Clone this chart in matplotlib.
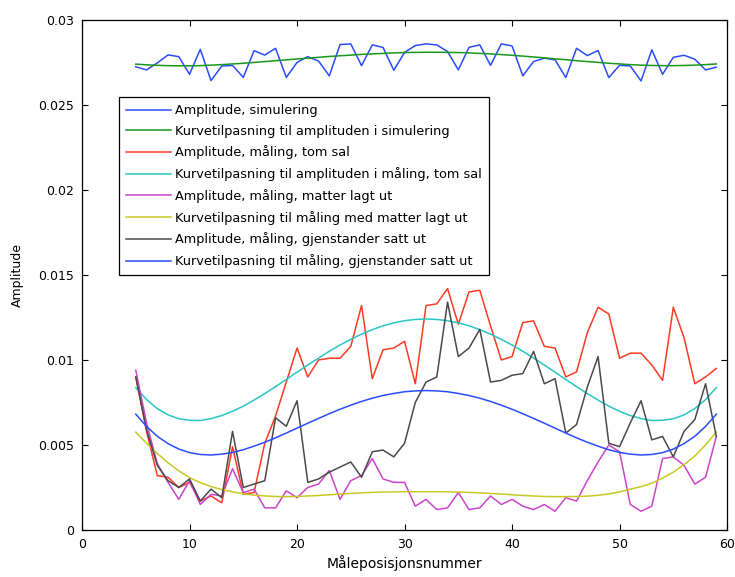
import matplotlib
matplotlib.use("Agg")
import matplotlib.pyplot as plt
import numpy as np

# measurement positions 5..59
pos = np.arange(5, 60)

amp_sim = [0.02724, 0.02706, 0.02747, 0.02794, 0.02784, 0.02680, 0.02827, 0.02643, 0.02729, 0.02732,
           0.02662, 0.02819, 0.02793, 0.02833, 0.02662, 0.02750, 0.02784, 0.02758, 0.02671, 0.02855,
           0.02859, 0.02731, 0.02853, 0.02838, 0.02704, 0.02809, 0.02849, 0.02859, 0.02853, 0.02814,
           0.02706, 0.02839, 0.02853, 0.02733, 0.02859, 0.02847, 0.02671, 0.02755, 0.02775, 0.02765,
           0.02661, 0.02833, 0.02790, 0.02820, 0.02661, 0.02733, 0.02729, 0.02641, 0.02824, 0.02680,
           0.02780, 0.02792, 0.02769, 0.02706, 0.02722]
fit_sim = [0.02740, 0.02736, 0.02733, 0.02731, 0.02730, 0.02730, 0.02731, 0.02734, 0.02737, 0.02741,
           0.02745, 0.02750, 0.02755, 0.02760, 0.02765, 0.02770, 0.02775, 0.02780, 0.02785, 0.02789,
           0.02793, 0.02797, 0.02800, 0.02803, 0.02806, 0.02808, 0.02809, 0.02810, 0.02810, 0.02809,
           0.02808, 0.02806, 0.02803, 0.02800, 0.02796, 0.02792, 0.02787, 0.02782, 0.02777, 0.02771,
           0.02766, 0.02760, 0.02755, 0.02750, 0.02745, 0.02741, 0.02737, 0.02734, 0.02732, 0.02731,
           0.02731, 0.02732, 0.02734, 0.02737, 0.02741]
amp_tom = [0.0090, 0.0058, 0.0032, 0.0031, 0.0025, 0.0028, 0.0017, 0.0020, 0.0016, 0.0049,
           0.0021, 0.0022, 0.0051, 0.0067, 0.0087, 0.0107, 0.0090, 0.0100, 0.0101, 0.0101,
           0.0108, 0.0132, 0.0089, 0.0106, 0.0107, 0.0111, 0.0086, 0.0132, 0.0133, 0.0142,
           0.0121, 0.0140, 0.0141, 0.0120, 0.0100, 0.0102, 0.0122, 0.0123, 0.0108, 0.0107,
           0.0090, 0.0093, 0.0116, 0.0131, 0.0127, 0.0101, 0.0104, 0.0104, 0.0097, 0.0088,
           0.0131, 0.0113, 0.0086, 0.0090, 0.0095]
fit_tom = [0.00837, 0.00767, 0.00714, 0.00677, 0.00654, 0.00645, 0.00644, 0.00655, 0.00673, 0.00698,
           0.00728, 0.00764, 0.00802, 0.00843, 0.00885, 0.00928, 0.00970, 0.01011, 0.01051, 0.01088,
           0.01121, 0.01152, 0.01178, 0.01201, 0.01218, 0.01231, 0.01238, 0.01241, 0.01238, 0.01231,
           0.01218, 0.01201, 0.01178, 0.01152, 0.01121, 0.01088, 0.01051, 0.01011, 0.00970, 0.00928,
           0.00885, 0.00843, 0.00802, 0.00764, 0.00728, 0.00698, 0.00673, 0.00655, 0.00644, 0.00645,
           0.00654, 0.00677, 0.00714, 0.00767, 0.00837]
amp_matter = [0.0094, 0.0063, 0.0039, 0.0028, 0.0018, 0.0029, 0.0015, 0.0021, 0.0020, 0.0036,
              0.0022, 0.0024, 0.0013, 0.0013, 0.0023, 0.0019, 0.0025, 0.0027, 0.0035, 0.0018,
              0.0029, 0.0032, 0.0042, 0.0030, 0.0028, 0.0028, 0.0014, 0.0018, 0.0012, 0.0013,
              0.0022, 0.0012, 0.0013, 0.0020, 0.0015, 0.0018, 0.0014, 0.0012, 0.0015, 0.0011,
              0.0019, 0.0017, 0.0029, 0.0040, 0.0050, 0.0046, 0.0015, 0.0011, 0.0014, 0.0042,
              0.0043, 0.0038, 0.0027, 0.0031, 0.0055]
fit_matter = [0.00575, 0.00510, 0.00450, 0.00395, 0.00348, 0.00308, 0.00278, 0.00255, 0.00238, 0.00224,
              0.00213, 0.00205, 0.00200, 0.00197, 0.00196, 0.00197, 0.00200, 0.00203, 0.00207, 0.00211,
              0.00215, 0.00218, 0.00221, 0.00223, 0.00224, 0.00225, 0.00225, 0.00225, 0.00225, 0.00224,
              0.00223, 0.00221, 0.00218, 0.00215, 0.00211, 0.00207, 0.00203, 0.00200, 0.00197, 0.00196,
              0.00196, 0.00197, 0.00199, 0.00204, 0.00212, 0.00224, 0.00240, 0.00255, 0.00275, 0.00305,
              0.00340, 0.00385, 0.00435, 0.00500, 0.00577]
amp_gjen = [0.0090, 0.0059, 0.0038, 0.0029, 0.0025, 0.0030, 0.0017, 0.0024, 0.0019, 0.0058,
            0.0025, 0.0027, 0.0029, 0.0066, 0.0061, 0.0076, 0.0028, 0.0030, 0.0034, 0.0037,
            0.0040, 0.0031, 0.0046, 0.0047, 0.0043, 0.0051, 0.0075, 0.0087, 0.0090, 0.0134,
            0.0102, 0.0107, 0.0118, 0.0087, 0.0088, 0.0091, 0.0092, 0.0105, 0.0086, 0.0089,
            0.0057, 0.0062, 0.0084, 0.0102, 0.0051, 0.0049, 0.0063, 0.0076, 0.0053, 0.0055,
            0.0043, 0.0058, 0.0065, 0.0086, 0.0055]
fit_gjen = [0.00681, 0.00609, 0.00551, 0.00508, 0.00476, 0.00455, 0.00444, 0.00441, 0.00446, 0.00456,
            0.00472, 0.00493, 0.00516, 0.00542, 0.00570, 0.00599, 0.00628, 0.00656, 0.00684, 0.00710,
            0.00734, 0.00756, 0.00775, 0.00791, 0.00803, 0.00813, 0.00818, 0.00820, 0.00818, 0.00813,
            0.00803, 0.00791, 0.00775, 0.00756, 0.00734, 0.00710, 0.00684, 0.00656, 0.00628, 0.00599,
            0.00570, 0.00542, 0.00516, 0.00493, 0.00472, 0.00456, 0.00446, 0.00441, 0.00444, 0.00455,
            0.00476, 0.00508, 0.00551, 0.00609, 0.00681]

labels = ["Amplitude, simulering",
          "Kurvetilpasning til amplituden i simulering",
          "Amplitude, måling, tom sal",
          "Kurvetilpasning til amplituden i måling, tom sal",
          "Amplitude, måling, matter lagt ut",
          "Kurvetilpasning til måling med matter lagt ut",
          "Amplitude, måling, gjenstander satt ut",
          "Kurvetilpasning til måling, gjenstander satt ut"]
series = [amp_sim, fit_sim, amp_tom, fit_tom, amp_matter, fit_matter, amp_gjen, fit_gjen]
colors = ['#2a4cff', '#1a961a', '#ff3a24', '#26c6c6', '#cc44cc', '#c8c824', '#4a4a4a', '#2a4cff']

yticks = [0, 0.005, 0.01, 0.015, 0.02, 0.025, 0.03]
ytick_labels = ['0', '0.005', '0.01', '0.015', '0.02', '0.025', '0.03']
xticks = [0, 10, 20, 30, 40, 50, 60]

plt.rcParams['font.family'] = ['DejaVu Sans']
plt.rcParams['font.size'] = 9

fig = plt.figure(figsize=(7.35, 5.77), dpi=100)
ax = fig.add_axes([0.1116, 0.0815, 0.8776, 0.884])

for ys, c, lab in zip(series, colors, labels):
    ax.plot(pos, ys, color=c, lw=1.1, label=lab)

ax.set_xlim(0, 60)
ax.set_ylim(0, 0.03)
ax.set_xticks(xticks)
ax.set_yticks(yticks)
ax.set_yticklabels(ytick_labels)
ax.tick_params(direction='in', top=True, right=True, length=4.5, width=0.8, labelsize=9, pad=6)
for sp in ax.spines.values():
    sp.set_linewidth(0.9)

ax.set_xlabel('Måleposisjonsnummer', fontsize=10, labelpad=3)
ax.set_ylabel('Amplitude', fontsize=9, labelpad=10)

leg = ax.legend(loc='upper left', bbox_to_anchor=(0.057, 0.849), borderaxespad=0,
                fancybox=False, edgecolor='black', framealpha=1, fontsize=9.3,
                handlelength=3.5, handletextpad=0.3, labelspacing=0.6, borderpad=0.55)
leg.get_frame().set_linewidth(0.9)

fig.savefig('out.png', dpi=100, facecolor='white')
